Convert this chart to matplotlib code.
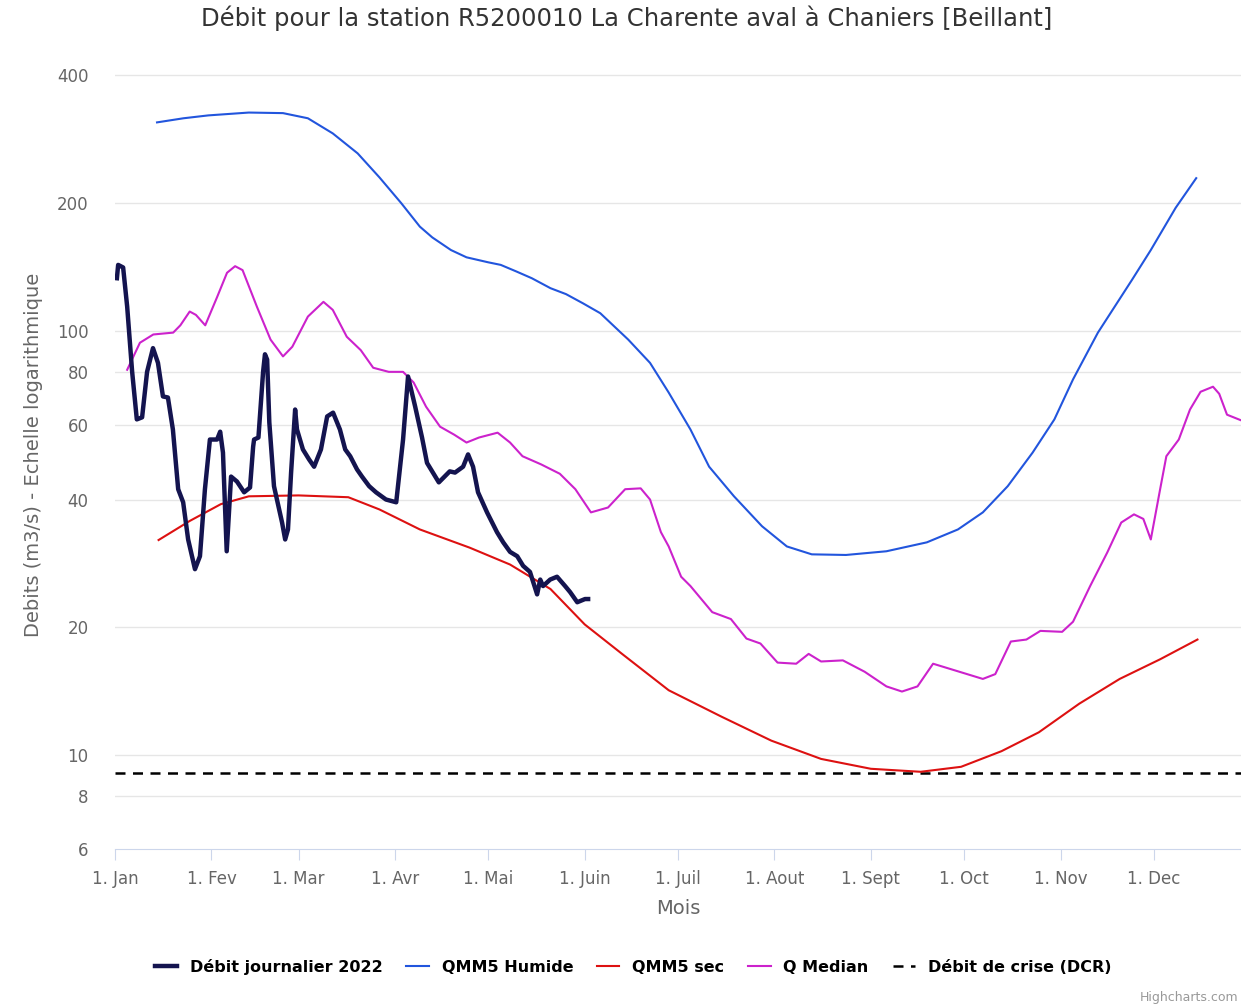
import matplotlib
matplotlib.use("Agg")
import matplotlib.pyplot as plt
from matplotlib.ticker import FixedLocator, NullLocator

plt.rcParams['font.family'] = ['DejaVu Sans']

# jour de l'annee (0 = 1er janvier)
month_days = [0, 31, 59, 90, 120, 151, 181, 212, 243, 273, 304, 334]
month_labels = ["1. Jan", "1. Fev", "1. Mar", "1. Avr", "1. Mai", "1. Juin",
                "1. Juil", "1. Aout", "1. Sept", "1. Oct", "1. Nov", "1. Dec"]

# debit journalier 2022 (m3/s)
q2022_days = [0.6, 1, 2.6, 3.9, 5.5, 7, 8.7, 10.3, 12.2, 13.8, 15.4, 17, 18.6,
              20.3, 21.9, 23.5, 25.7, 27.3, 28.9, 30.5, 32.8, 33.8, 34.7, 35.9,
              37.3, 39.2, 41.5, 43.4, 44.4, 44.7, 46.1, 47.6, 48.2, 48.9, 49.6,
              51.1, 53.7, 54.7, 55.6, 56.6, 57.9, 58.5, 60.4, 62.4, 64, 66.2,
              68.2, 70.1, 72.3, 74, 75.6, 77.8, 79.4, 81.7, 83.9, 87.1, 90.4,
              92.6, 94.2, 96.5, 98.7, 100.3, 104.1, 107.6, 109.3, 111.9, 113.5,
              115.1, 116.7, 119.6, 122.8, 124.8, 127, 129.3, 131.2, 133.4, 135.7,
              136.7, 137.6, 139.9, 142.1, 144.7, 146.3, 148.6, 151.1, 152.1]
q2022_vals = [133, 143, 141, 114, 80, 61.8, 62.5, 80, 91, 84, 70, 69.6, 58.5,
              42.3, 39.4, 32.2, 27.4, 29.4, 42.3, 55.4, 55.4, 57.8, 51.6, 30.2,
              45.3, 44.1, 41.6, 42.7, 53.3, 55.4, 56, 80, 88, 85.5, 60.8, 43,
              35.3, 32.2, 34, 46.3, 65.2, 58.5, 52.5, 49.7, 47.8, 52.5, 62.8,
              64.1, 58.5, 52.5, 50.6, 47.1, 45.3, 43, 41.6, 40, 39.4, 55.4,
              78, 66.2, 56, 48.8, 43.9, 46.6, 46.3, 47.8, 51.1, 47.8, 41.6, 37.3,
              33.5, 31.7, 30.1, 29.4, 27.9, 27, 23.9, 25.9, 25, 25.9, 26.3, 25,
              24.2, 22.9, 23.3, 23.3]

# QMM5 humide
humide_days = [13.5, 22, 30, 43, 54, 62, 70, 78, 85, 92, 98, 102, 108, 113,
               120, 124, 129, 134, 140, 145, 150.5, 156, 165, 172, 178, 185,
               191, 199, 208, 216, 224, 235, 248, 261, 271, 279, 287, 295, 302,
               308, 316, 327, 333, 341, 347.6]
humide_vals = [310, 317, 322, 327, 326, 317, 292, 262, 230, 200, 176, 166, 155,
               149, 145, 143, 138, 133, 126, 122, 116, 110, 95.3, 84, 71.5, 58.5,
               47.8, 40.7, 34.6, 31, 29.7, 29.6, 30.2, 31.7, 34, 37.3, 43, 51.6,
               61.8, 76.8, 99, 132, 155, 195, 229]

# QMM5 sec
sec_days = [14, 24, 34, 43, 59, 75, 85, 98, 114, 127, 140, 151, 163, 178, 195,
            211, 227, 243, 259, 272, 285, 297, 310, 323, 336, 348]
sec_vals = [32.1, 35.6, 39, 40.7, 40.9, 40.5, 37.9, 34, 30.8, 28.1, 24.6, 20.3,
            17.3, 14.2, 12.3, 10.8, 9.78, 9.27, 9.12, 9.37, 10.2, 11.3, 13.2,
            15.1, 16.8, 18.7]

# Q median
median_days = [3.9, 8, 12.3, 18.7, 21, 24, 26, 29, 32.8, 36, 38.6, 41, 45.6,
               50, 54, 57, 62, 67, 70, 74.5, 79, 83, 88, 92.6, 96, 100, 104.5,
               109, 113, 117, 123, 127, 131, 137, 143, 148, 153, 158.5, 164, 169,
               172, 175.5, 178, 182, 185, 192, 198, 203, 207.5, 213, 219, 223,
               227, 234, 241, 248, 253, 258, 263, 269, 279, 283, 288, 293, 297.5,
               304.5, 308, 313.5, 319, 323.5, 327.6, 330.6, 333, 336, 338, 342,
               345.6, 349, 353, 355, 357.5, 362]
median_vals = [80.9, 93.7, 98, 99, 103, 111, 109, 103, 120, 137, 142, 139, 114,
               95.3, 87, 91.7, 108, 117, 112, 96.8, 90, 81.8, 80, 80, 75.5, 66.2,
               59.4, 56.9, 54.5, 56, 57.5, 54.5, 50.6, 48.4, 46, 42.3, 37.3, 38.3,
               42.3, 42.5, 40, 33.5, 31, 26.3, 25, 21.7, 20.9, 18.8, 18.3, 16.5,
               16.4, 17.3, 16.6, 16.7, 15.7, 14.5, 14.1, 14.5, 16.4, 15.9, 15.1,
               15.5, 18.5, 18.7, 19.6, 19.5, 20.6, 25, 30, 35.3, 36.9, 36, 32.2,
               42.3, 50.6, 55.4, 65.2, 71.8, 73.8, 71, 63.4, 61.5]

dcr = 9.08
y_ticks = [6, 8, 10, 20, 40, 60, 80, 100, 200, 400]

fig = plt.figure(figsize=(12.41, 10.07), dpi=100)
ax = fig.add_axes([0.0927, 0.157, 0.9073, 0.783])

ax.set_yscale("log")
ax.set_ylim(6, 434)
ax.set_xlim(0, 362)

ax.yaxis.set_major_locator(FixedLocator(y_ticks))
ax.yaxis.set_minor_locator(NullLocator())
ax.set_yticklabels([str(t) for t in y_ticks])
ax.set_xticks(month_days)
ax.set_xticklabels(month_labels)

for t in y_ticks[1:]:
    ax.axhline(t, color="#e6e6e6", lw=1, zorder=0)

ax.plot(humide_days, humide_vals, color="#2255dd", lw=1.5, label="QMM5 Humide", zorder=3)
ax.plot(sec_days, sec_vals, color="#dd1111", lw=1.5, label="QMM5 sec", zorder=3)
ax.plot(median_days, median_vals, color="#cc22cc", lw=1.5, label="Q Median", zorder=3)
ax.plot(q2022_days, q2022_vals, color="#14144f", lw=3.2, label="Débit journalier 2022",
        zorder=4, solid_joinstyle="round")
ax.axhline(dcr, color="black", lw=1.8, ls=(0, (4, 3)), label="Débit de crise (DCR)", zorder=2)

for s in ["top", "right", "left"]:
    ax.spines[s].set_visible(False)
ax.spines["bottom"].set_color("#ccd6eb")
ax.tick_params(axis="y", length=0, labelsize=12, labelcolor="#666666", pad=19)
ax.tick_params(axis="x", length=8, color="#ccd6eb", labelsize=12, labelcolor="#666666", pad=7)

ax.set_xlabel("Mois", fontsize=14, color="#666666", labelpad=8)
ax.set_ylabel("Debits (m3/s) - Echelle logarithmique", fontsize=14, color="#666666", labelpad=10)
fig.suptitle("Débit pour la station R5200010 La Charente aval à Chaniers [Beillant]",
             fontsize=17.5, color="#333333", x=0.505, y=0.995)

handles, labels = ax.get_legend_handles_labels()
order = [3, 0, 1, 2, 4]
fig.legend([handles[i] for i in order], [labels[i] for i in order],
           loc="center", bbox_to_anchor=(0.51, 0.04), ncol=5, frameon=False,
           handlelength=1.4, columnspacing=1.5,
           prop={"weight": "bold", "size": 11.5})

fig.text(0.998, 0.003, "Highcharts.com", ha="right", va="bottom", fontsize=9, color="#999999")

fig.savefig("out.png", dpi=100)
